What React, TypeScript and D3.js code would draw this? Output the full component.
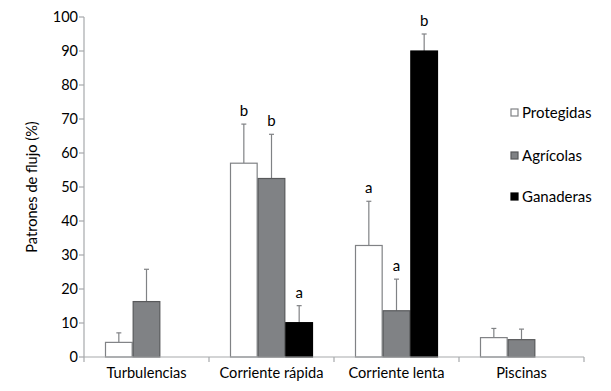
import React from "react";
import * as d3 from "d3";

const categories = ["Turbulencias", "Corriente rápida", "Corriente lenta", "Piscinas"];
const seriesNames = ["Protegidas", "Agrícolas", "Ganaderas"];
const protegidas = [4.3, 57.0, 32.8, 5.7];
const protegidasErr = [2.8, 11.5, 13.0, 2.7];
const agricolas = [16.3, 52.5, 13.6, 5.1];
const agricolasErr = [9.5, 13.0, 9.3, 3.1];
const ganaderas = [0, 10.1, 90, 0];
const ganaderasErr = [0, 5.0, 5.0, 0];
const protegidasSig = ["", "b", "a", ""];
const agricolasSig = ["", "b", "a", ""];
const ganaderasSig = ["", "a", "b", ""];
const yTicks = [0, 10, 20, 30, 40, 50, 60, 70, 80, 90, 100];

const fills = ["#ffffff", "#808285", "#000000"];
const strokes = ["#808285", "#58595b", "#000000"];

export default function App() {
  const W = 611, H = 391;
  const x0 = 84, x1 = 584, yTop = 17, yBot = 357;
  const y = d3.scaleLinear().domain([0, 100]).range([yBot, yTop]);
  const xCat = d3.scaleBand().domain(categories).range([x0, x1]).paddingInner(0).paddingOuter(0);
  const groupW = 83;
  const xSeries = d3.scaleBand().domain(seriesNames).range([0, groupW]);
  const values = [protegidas, agricolas, ganaderas];
  const errs = [protegidasErr, agricolasErr, ganaderasErr];
  const sigs = [protegidasSig, agricolasSig, ganaderasSig];
  const font = "Lato, 'Open Sans', sans-serif";
  const errColor = "#808285";

  const bars: React.ReactNode[] = [];
  categories.forEach((c, ci) => {
    const gx = (xCat(c) as number) + (xCat.bandwidth() - groupW) / 2;
    seriesNames.forEach((s, si) => {
      const v = values[si][ci];
      if (!v) return;
      const bx = gx + (xSeries(s) as number);
      const bw = xSeries.bandwidth();
      const top = y(v);
      const e = errs[si][ci];
      const cx = bx + bw / 2;
      const et = y(v + e);
      bars.push(
        <g key={`${ci}-${si}`}>
          <line x1={cx} x2={cx} y1={top} y2={et} stroke={errColor} strokeWidth={1.2} />
          <line x1={cx - 2.5} x2={cx + 2.5} y1={et} y2={et} stroke={errColor} strokeWidth={1.2} />
          <rect x={bx + 0.5} y={top} width={bw - 1} height={yBot - top} fill={fills[si]} stroke={strokes[si]} strokeWidth={1.2} />
          {sigs[si][ci] ? (
            <text x={cx} y={et - 8} textAnchor="middle" fontSize={15} fontFamily={font} fill="#000">{sigs[si][ci]}</text>
          ) : null}
        </g>
      );
    });
  });

  return (
    <svg width={W} height={H} style={{ position: "absolute", left: 0, top: 0, background: "#fff" }}>
      <rect x={0} y={0} width={W} height={H} fill="#fff" />
      {bars}
      {/* y axis */}
      <line x1={x0} x2={x0} y1={yTop} y2={yBot} stroke="#a7a9ac" strokeWidth={1.2} />
      {yTicks.map((t) => (
        <g key={t}>
          <line x1={x0 - 5} x2={x0} y1={y(t)} y2={y(t)} stroke="#a7a9ac" strokeWidth={1.2} />
          <text x={x0 - 6} y={y(t)} dy="0.35em" textAnchor="end" fontSize={14.5} fontFamily={font} fill="#000">{t}</text>
        </g>
      ))}
      {/* x axis */}
      <line x1={x0} x2={x1} y1={yBot} y2={yBot} stroke="#a7a9ac" strokeWidth={1.2} />
      {[...categories.map((c) => xCat(c) as number), x1].map((tx, i) => (
        <line key={i} x1={tx} x2={tx} y1={yBot} y2={yBot + 5} stroke="#a7a9ac" strokeWidth={1.2} />
      ))}
      {categories.map((c) => (
        <text key={c} x={(xCat(c) as number) + xCat.bandwidth() / 2} y={378} textAnchor="middle" fontSize={14.6} fontFamily={font} fill="#000">{c}</text>
      ))}
      <text transform={`translate(37,${(yTop + yBot) / 2}) rotate(-90)`} textAnchor="middle" fontSize={14.6} fontFamily={font} fill="#000">Patrones de flujo (%)</text>
      {/* legend */}
      {seriesNames.map((s, i) => {
        const ly = [113, 156, 197][i];
        return (
          <g key={s}>
            <rect x={511} y={ly - 4} width={7} height={7} fill={fills[i]} stroke={strokes[i]} strokeWidth={1.2} />
            <text x={522} y={ly} dy="0.35em" fontSize={15} fontFamily={font} fill="#000">{s}</text>
          </g>
        );
      })}
    </svg>
  );
}
